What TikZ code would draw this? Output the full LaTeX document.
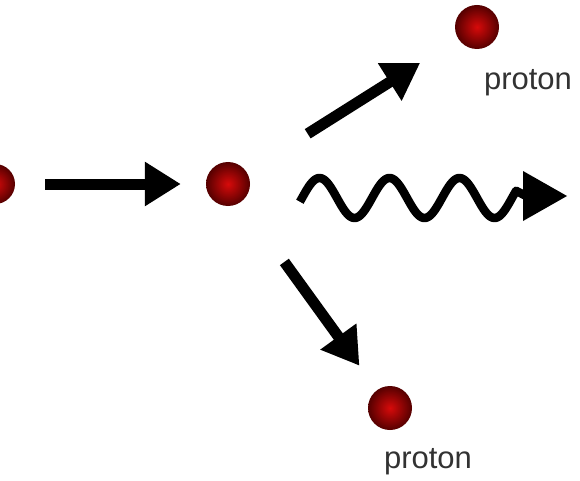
\documentclass[tikz,border=0pt]{standalone}
\usepackage{fontspec}
\setmainfont{Liberation Sans}
\usetikzlibrary{arrows.meta}
\definecolor{ballin}{RGB}{215,10,10}
\definecolor{ballout}{RGB}{85,0,0}
\definecolor{txtgray}{RGB}{50,50,50}
\tikzset{
  ball/.style={circle, inner sep=0pt, minimum size=44pt, shading=radial, inner color=ballin, outer color=ballout},
  bigarrow/.style={line width=11pt, -{Triangle[length=36pt,width=42pt]}},
  photon/.style={line width=8.5pt, line join=round},
  photontip/.style={line width=0pt, -{Triangle[length=44pt,width=50pt]}},
  lbl/.style={text=txtgray, font=\fontsize{31}{31}\selectfont, inner sep=0pt}
}
\begin{document}
\begin{tikzpicture}[x=1pt, y=-1pt]
        \useasboundingbox (0,0) rectangle (580,481); % Margens
        \begin{scope}
        \clip (0,0) rectangle (580,481);
        \node[ball, minimum size=40pt] (beam) at (-5,184) {}; % Feixe
        \end{scope}
        \node[ball] (target) at (228,184) {}; % Alvo
        \node[ball] (p1) at (477,27) {}; % Proton de cima
        \node[ball] (p2) at (390,408) {}; % Proton de baixo
        \node[lbl] (l1) at (528,83) {proton};
        \node[lbl] (l2) at (428,462) {proton};
        \coordinate (w1) at (524,196); % Base da seta da onda
        \coordinate (w2) at (567,196); % Ponta da seta da onda
        \draw[bigarrow, shorten <=30pt, shorten >=25pt] (beam) -- (target); % Entrada
        \draw[bigarrow, shorten <=72pt, shorten >=45pt] (target) -- (p1); % Saida de cima
        \draw[bigarrow, shorten <=74pt, shorten >=30pt] (target) -- (p2); % Saida de baixo
        \draw[photon] plot[domain=-0.03:3.06, samples=120, smooth] ({302+70*\x}, {198 - 20*sin(360*\x)}) -- ([xshift=2pt]w1); % Onda
        \draw[photontip] ([xshift=-1pt]w1) -- (w2); % Seta da onda
    \end{tikzpicture}
\end{document}
